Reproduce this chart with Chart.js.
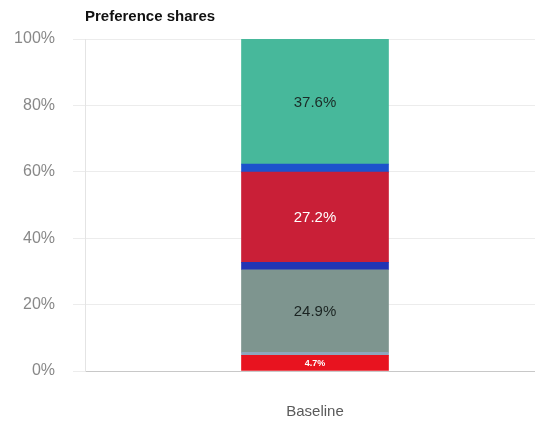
<!DOCTYPE html>
<html>
<head>
<meta charset="utf-8">
<script src="https://cdn.jsdelivr.net/npm/chart.js@4"></script>
<style>
  html, body { margin: 0; padding: 0; background: #fff; overflow: hidden; }
  #wrap { width: 545px; height: 421px; }
</style>
</head>
<body>
<div id="wrap"><canvas id="myChart"></canvas></div>
<script>
// Parts de préférence, empilées de bas en haut
const categories = ['Baseline'];
const segmentNames = ['A', 'B', 'C', 'D', 'E', 'F', 'G'];
const segmentValues = [4.7, 0.9, 24.9, 2.2, 27.2, 2.4, 37.6];
const segmentLabels = ['4.7%', '', '24.9%', '', '27.2%', '', '37.6%'];
const segmentColors = ['#e8131f', '#8ea6bd', '#7e958f', '#2235b4', '#c91f37', '#1d52cc', '#47b89b'];
const labelColors = ['#fff', '', '#1b2422', '', '#fff', '', '#1b2b27'];
const yTicks = [0, 20, 40, 60, 80, 100];

const FONT = '"Liberation Sans", Arial, Helvetica, sans-serif';

// Titre aligné sur la zone du graphique + valeurs dans les segments
const decor = {
    id: 'decor',
    afterDatasetsDraw(chart) {
        const ctx = chart.ctx;
        ctx.save();
        ctx.fillStyle = '#111';
        ctx.font = 'bold 15px ' + FONT;
        ctx.textAlign = 'left';
        ctx.textBaseline = 'middle';
        ctx.fillText('Preference shares', chart.chartArea.left, 17);

        chart.data.datasets.forEach((ds, i) => {
            const txt = segmentLabels[i];
            if (!txt) return;
            const bar = chart.getDatasetMeta(i).data[0];
            const small = ds.data[0] < 8;
            ctx.font = (small ? 'bold 9px ' : '15px ') + FONT;
            ctx.fillStyle = labelColors[i];
            ctx.textAlign = 'center';
            ctx.fillText(txt, bar.x, (bar.y + bar.base) / 2 + 1);
        });
        ctx.restore();
    }
};

const ctx = document.getElementById('myChart').getContext('2d');
new Chart(ctx, {
    type: 'bar',
    data: {
        labels: categories,
        datasets: segmentValues.map((v, i) => ({
            label: segmentNames[i],
            data: [v],
            backgroundColor: segmentColors[i],
            borderWidth: 0,
            barThickness: 147
        }))
    },
    options: {
        responsive: true,
        maintainAspectRatio: false,
        animation: false,
        layout: { padding: { top: 39, left: 0, right: 0, bottom: 0 } },
        plugins: {
            legend: { display: false },
            tooltip: { enabled: false }
        },
        scales: {
            x: {
                stacked: true,
                grid: { display: false },
                border: { display: true, color: '#c8c8c8', width: 1 },
                ticks: { color: '#5a5a5a', font: { family: FONT, size: 15 }, padding: 24 },
                afterFit(axis) { axis.height = 50; }
            },
            y: {
                stacked: true,
                min: 0,
                max: 100,
                afterBuildTicks(axis) { axis.ticks = yTicks.map(v => ({ value: v })); },
                grid: { color: '#ececec', tickLength: 12, drawTicks: true },
                border: { display: true, color: '#e4e4e4' },
                ticks: {
                    color: '#888',
                    font: { family: FONT, size: 16 },
                    padding: 18,
                    callback: v => v + '%'
                },
                afterFit(axis) { axis.width = 85; }
            }
        }
    },
    plugins: [decor]
});
</script>
</body>
</html>
